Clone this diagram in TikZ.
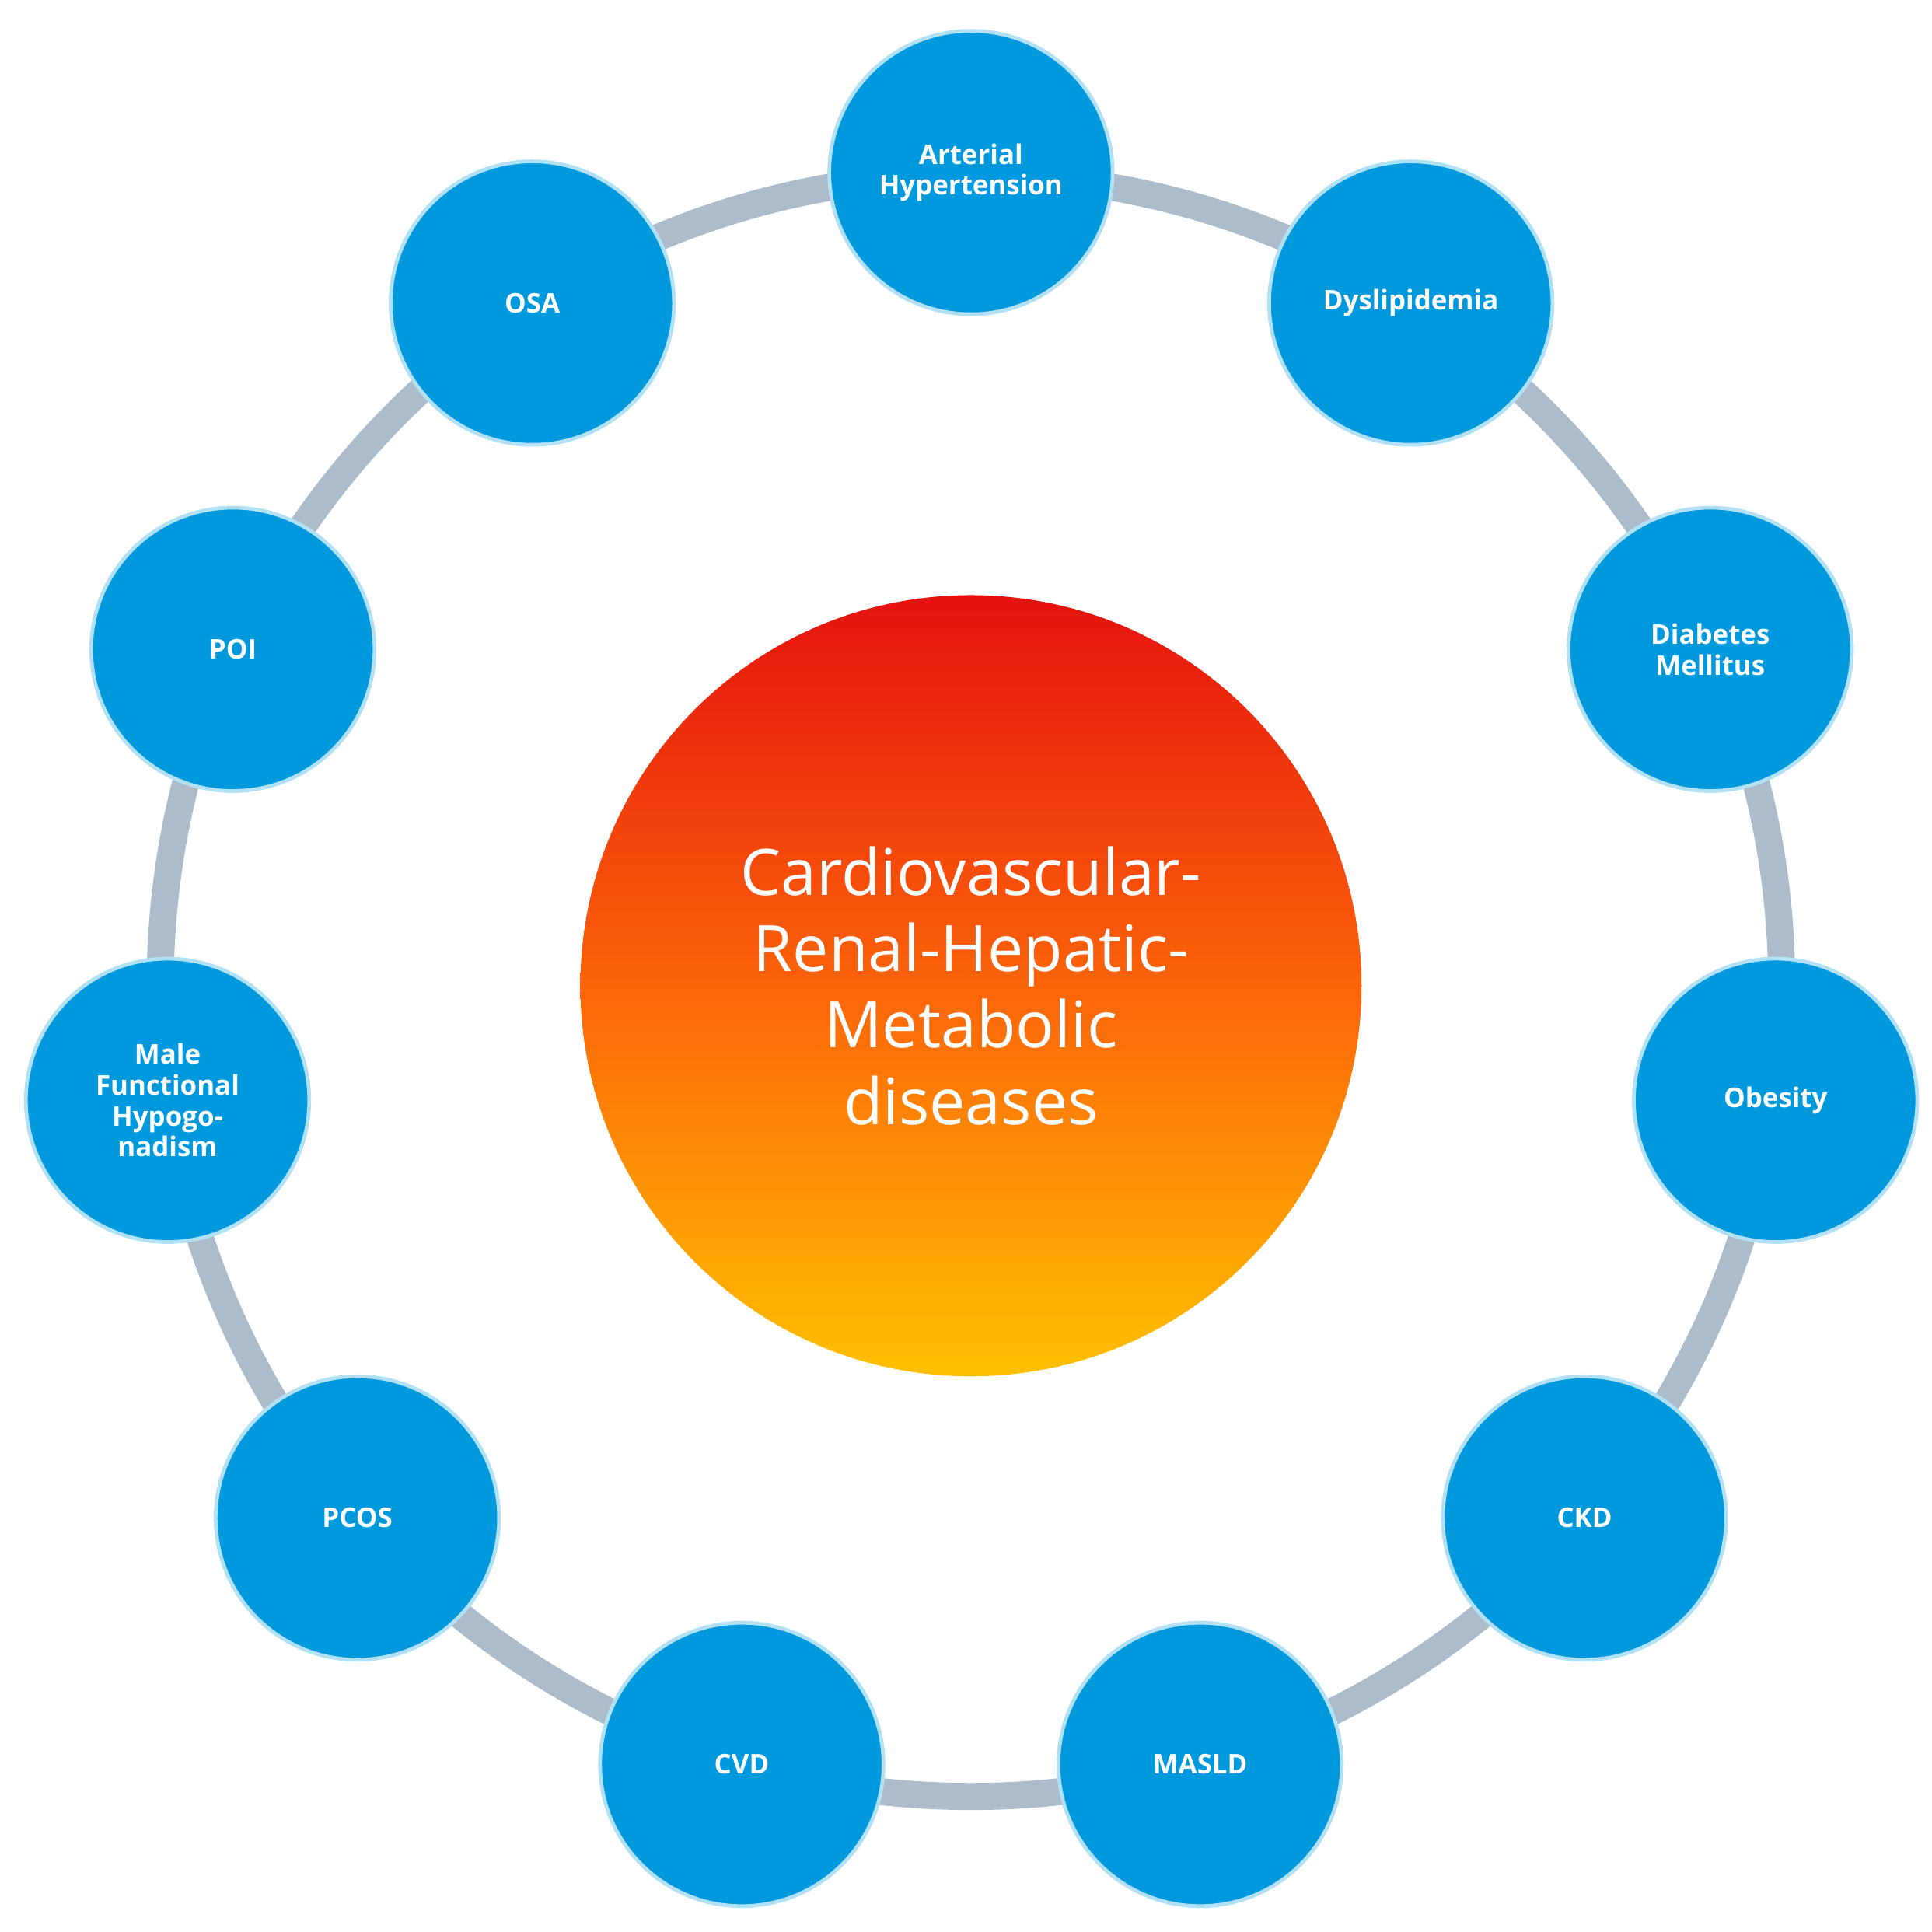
\documentclass[tikz,border=0pt]{standalone}
\usepackage{fontspec}
\setmainfont{Open Sans}
\definecolor{bub}{RGB}{0,153,222}
\definecolor{ring}{RGB}{172,188,202}
\definecolor{ctop}{RGB}{228,18,14}
\definecolor{cmid}{RGB}{252,100,10}
\definecolor{cbot}{RGB}{255,192,0}
\begin{document}
\begin{tikzpicture}[x=0.5pt,y=-0.5pt,
  sm/.style={circle,fill=bub,draw=white!70!bub,line width=1.5pt,minimum size=115pt,inner sep=0pt,
    text=white,font=\bfseries\fontsize{11}{12.5}\selectfont,align=center}]
\useasboundingbox (0,0) rectangle (1568,1568);
\coordinate (c) at (788,800);
\draw[ring,line width=11pt] (c) circle[radius=329pt];
\node[circle,minimum size=317pt,inner sep=0pt,top color=ctop,bottom color=cbot,middle color=cmid,
  text=white,align=center,font=\fontsize{26}{31}\selectfont] (main) at (c)
  {Cardiovascular-\\Renal-Hepatic-\\Metabolic\\diseases};
\node[sm] (ah) at (788,140) {Arterial\\Hypertension};
\node[sm] (dy) at (1145,246) {Dyslipidemia};
\node[sm] (dm) at (1388,527) {Diabetes\\Mellitus};
\node[sm] (ob) at (1441,893) {Obesity};
\node[sm] (ckd) at (1286,1232) {CKD};
\node[sm] (ma) at (974,1432) {MASLD};
\node[sm] (cvd) at (602,1432) {CVD};
\node[sm] (pc) at (290,1232) {PCOS};
\node[sm] (mf) at (136,893) {Male\\Functional\\Hypogo-\\nadism};
\node[sm] (poi) at (189,527) {POI};
\node[sm] (osa) at (432,246) {OSA};
\end{tikzpicture}
\end{document}
